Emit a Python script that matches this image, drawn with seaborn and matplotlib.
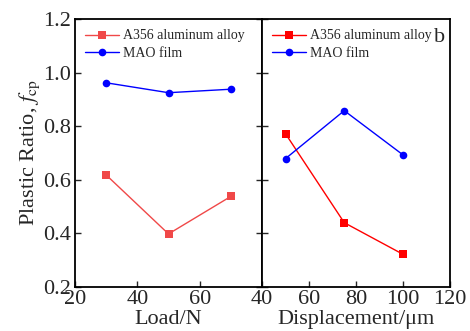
import matplotlib
matplotlib.use("Agg")
import matplotlib.pyplot as plt
import seaborn as sns
import pandas as pd

sns.set_style("ticks")
plt.rcParams['font.family'] = ['Liberation Serif', 'DejaVu Serif']
plt.rcParams['mathtext.fontset'] = 'stix'

# Panel a: load
load = [30, 50, 70]
alloy_load = [0.618, 0.398, 0.538]
mao_load = [0.962, 0.925, 0.938]

# Panel b: displacement
disp = [50, 75, 100]
alloy_disp = [0.772, 0.440, 0.322]
mao_disp = [0.679, 0.858, 0.693]

series_names = ["A356 aluminum alloy", "MAO film"]

df_a = pd.DataFrame({
    "x": load + load,
    "y": alloy_load + mao_load,
    "s": [series_names[0]] * 3 + [series_names[1]] * 3,
})
df_b = pd.DataFrame({
    "x": disp + disp,
    "y": alloy_disp + mao_disp,
    "s": [series_names[0]] * 3 + [series_names[1]] * 3,
})

fig = plt.figure(figsize=(4.7, 3.31), dpi=100)
ax1 = fig.add_axes([75/470, 1-287/331, (262-75)/470, (287-19)/331])
ax2 = fig.add_axes([262/470, 1-287/331, (450-262)/470, (287-19)/331])

sns.lineplot(data=df_a, x="x", y="y", hue="s", style="s",
             palette=["#f04848", "#0000ff"], markers=["s", "o"], dashes=False,
             markersize=5.5, markeredgewidth=0, linewidth=1.0, ax=ax1)
sns.lineplot(data=df_b, x="x", y="y", hue="s", style="s",
             palette=["#ff0000", "#0000ff"], markers=["s", "o"], dashes=False,
             markersize=5.5, markeredgewidth=0, linewidth=1.0, ax=ax2)

for ax in (ax1, ax2):
    ax.set_ylim(0.2, 1.2)
    ax.set_yticks([0.2, 0.4, 0.6, 0.8, 1.0, 1.2])
    for sp in ax.spines.values():
        sp.set_visible(True)
        sp.set_linewidth(1.3)
        sp.set_color("black")
    ax.tick_params(direction="in", length=4, width=1, labelsize=16)
    ax.tick_params(axis="y", pad=3)
    ax.tick_params(axis="x", pad=2)
    ax.legend(loc="upper left", frameon=False, fontsize=10, handlelength=2.4,
              handletextpad=0.3, borderaxespad=0.45, labelspacing=0.3,
              borderpad=0.3)

ax1.set_xlim(20, 80)
ax1.set_xticks([20, 40, 60])
ax1.tick_params(axis="y", right=True)
ax1.set_yticklabels(["0.2", "0.4", "0.6", "0.8", "1.0", "1.2"])
ax1.set_xlabel("Load/N", fontsize=16, labelpad=1)
ax1.set_ylabel(r"Plastic Ratio, $f_{\rm cp}$", fontsize=16, labelpad=1)

ax2.set_xlim(40, 120)
ax2.set_xticks([40, 60, 80, 100, 120])
ax2.tick_params(axis="y", left=True, labelleft=False)
ax2.set_xlabel("Displacement/\u03bcm", fontsize=16, labelpad=1)
ax2.set_ylabel("")
ax2.text(0.945, 0.965, "b", transform=ax2.transAxes, fontsize=16, va="top", ha="center")

fig.savefig("out.png", dpi=100)
